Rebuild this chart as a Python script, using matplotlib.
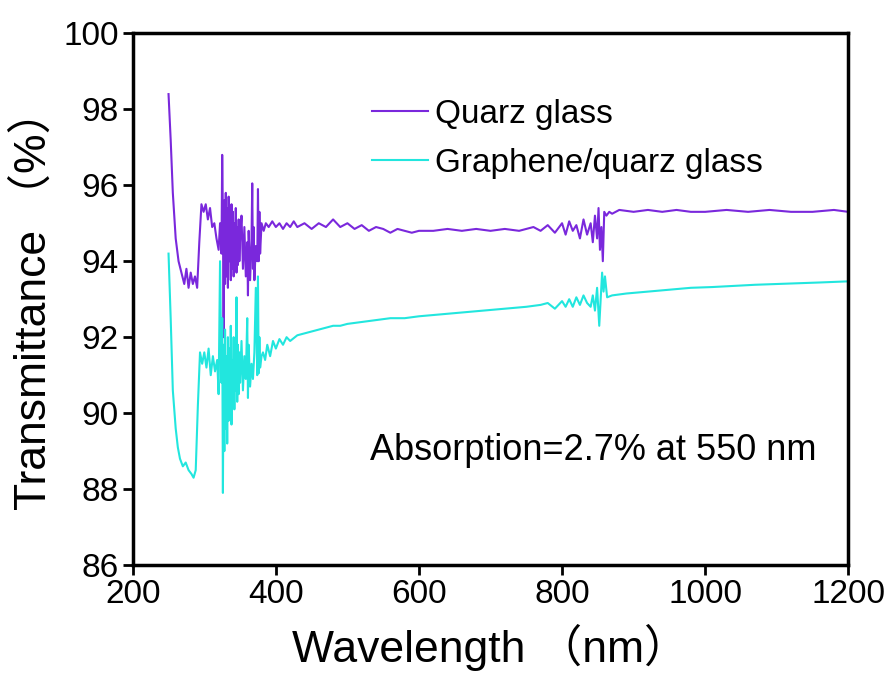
import matplotlib
matplotlib.use('Agg')
import matplotlib.pyplot as plt

plt.rcParams['font.family'] = ['Liberation Sans', 'Noto Sans CJK SC', 'DejaVu Sans']

# Quarz glass
wl_quartz = [250, 253, 256, 260, 264, 268, 272, 275, 278, 281, 284, 287, 290, 293, 296, 299,
             302, 305, 308, 311, 314, 317, 320, 322, 324, 325, 326, 327, 328, 329, 330, 331,
             332, 333, 334, 335, 336, 337, 338, 339, 340, 341, 342, 343, 344, 345, 346, 347,
             348, 349, 350, 352, 354, 356, 358, 360, 361, 362, 364, 366, 367, 368, 369, 370,
             372, 374, 375, 376, 377, 378, 380, 383, 386, 390, 395, 400, 405, 410, 415, 420,
             425, 430, 440, 450, 460, 470, 480, 490, 500, 510, 520, 530, 540, 550, 560, 570,
             580, 590, 600, 620, 640, 660, 680, 700, 720, 740, 760, 770, 780, 790, 800, 805,
             810, 815, 820, 825, 830, 835, 840, 843, 846, 849, 851, 853, 855, 857, 859, 862,
             866, 870, 880, 900, 920, 940, 960, 980, 1000, 1030, 1060, 1090, 1120, 1150, 1180, 1200]
t_quartz = [98.4, 97.2, 95.8, 94.6, 94.0, 93.7, 93.4, 93.8, 93.3, 93.7, 93.4, 93.6, 93.3, 94.5, 95.5, 95.3,
            95.5, 95.1, 95.4, 94.9, 95.0, 94.6, 94.3, 95.0, 94.2, 96.8, 95.2, 92.0, 95.6, 93.4, 95.8, 93.6,
            95.4, 93.3, 95.7, 94.0, 95.2, 93.5, 95.5, 93.8, 95.3, 93.6, 95.0, 94.2, 95.4, 93.7, 94.9, 93.9,
            95.1, 94.0, 94.6, 95.2, 93.8, 94.9, 93.6, 94.5, 93.1, 94.8, 93.5, 94.6, 96.05, 93.8, 94.9, 93.5,
            94.4, 94.0, 95.9, 94.0, 95.3, 94.2, 95.0, 94.8, 95.0, 94.9, 95.05, 94.9, 95.0, 94.85, 95.0, 94.9,
            95.05, 94.9, 95.0, 94.85, 95.0, 94.9, 95.1, 94.9, 95.0, 94.85, 94.95, 94.8, 94.9, 94.85, 94.75, 94.85,
            94.8, 94.75, 94.8, 94.8, 94.85, 94.8, 94.85, 94.8, 94.85, 94.8, 94.9, 94.8, 94.95, 94.75, 95.0, 94.7,
            95.05, 94.8, 94.95, 94.6, 95.1, 94.7, 95.0, 94.5, 95.2, 94.6, 95.4, 94.3, 94.9, 94.0, 95.3, 95.2,
            95.3, 95.25, 95.35, 95.3, 95.35, 95.3, 95.35, 95.3, 95.3, 95.35, 95.3, 95.35, 95.3, 95.3, 95.35, 95.3]

# Graphene/quarz glass
wl_graphene = [250, 253, 256, 260, 263, 266, 270, 274, 278, 282, 285, 288, 291, 294, 297, 300,
               303, 306, 309, 312, 315, 318, 320, 322, 324, 325, 326, 327, 328, 329, 330, 331,
               332, 333, 334, 335, 336, 337, 338, 339, 340, 341, 342, 343, 344, 345, 346, 347,
               348, 349, 350, 352, 354, 356, 358, 360, 361, 362, 364, 366, 368, 370, 372, 374,
               375, 376, 377, 378, 380, 382, 385, 388, 392, 396, 400, 405, 410, 415, 420, 430,
               440, 450, 460, 470, 480, 490, 500, 520, 540, 560, 580, 600, 630, 660, 690, 720,
               750, 770, 780, 790, 800, 805, 810, 815, 820, 825, 830, 835, 840, 843, 846, 849,
               852, 854, 856, 858, 860, 863, 870, 890, 920, 950, 980, 1010, 1040, 1070, 1100, 1130,
               1160, 1200]
t_graphene = [94.2, 92.5, 90.6, 89.6, 89.1, 88.8, 88.6, 88.7, 88.5, 88.4, 88.3, 88.5, 90.2, 91.6, 91.3, 91.6,
              91.2, 91.7, 91.0, 91.5, 91.1, 91.4, 90.5, 94.0, 90.8, 92.5, 87.9, 91.8, 89.0, 92.2, 89.6, 91.5,
              89.2, 92.0, 89.8, 91.7, 90.2, 92.3, 89.7, 91.4, 90.4, 92.0, 90.1, 91.6, 90.6, 93.05, 90.3, 91.8,
              90.5, 91.6, 90.8, 91.9, 90.6, 91.5, 90.9, 92.5, 90.4, 91.8, 90.7, 91.3, 90.9, 91.6, 93.3, 91.0,
              93.6, 91.05, 92.0, 91.2, 91.5, 91.6, 91.4, 91.8, 91.5, 91.9, 91.7, 91.95, 91.8, 92.0, 91.9, 92.05,
              92.1, 92.15, 92.2, 92.25, 92.3, 92.3, 92.35, 92.4, 92.45, 92.5, 92.5, 92.55, 92.6, 92.65, 92.7, 92.75,
              92.8, 92.85, 92.9, 92.75, 92.95, 92.8, 93.0, 92.8, 93.05, 92.85, 93.1, 92.9, 92.8, 93.1, 92.7, 93.3,
              92.3, 93.0, 93.7, 93.2, 93.6, 93.05, 93.1, 93.15, 93.2, 93.25, 93.3, 93.32, 93.35, 93.38, 93.4, 93.42,
              93.44, 93.47]

labels = ['Quarz glass', 'Graphene/quarz glass']
colors = ['#7A28DC', '#22E6DE']

fig = plt.figure(figsize=(8.91, 6.8), dpi=100)
ax = fig.add_axes([0.149, 0.169, 0.803, 0.782])

ax.plot(wl_quartz, t_quartz, color=colors[0], lw=1.5, label=labels[0])
ax.plot(wl_graphene, t_graphene, color=colors[1], lw=1.5, label=labels[1])

ax.set_xlim(200, 1200)
ax.set_ylim(86, 100)
ax.set_xticks(range(200, 1201, 200))
ax.set_yticks(range(86, 101, 2))
ax.tick_params(direction='out', length=7, width=2, labelsize=24, pad=3)
for s in ax.spines.values():
    s.set_linewidth(2.5)

ax.set_xlabel('Wavelength （nm）', fontsize=32, labelpad=10)
ax.set_ylabel('Transmittance （%）', fontsize=32, labelpad=6)

ax.legend(loc='upper left', bbox_to_anchor=(0.334, 0.877), frameon=False, fontsize=24,
          handlelength=1.7, handletextpad=0.2, labelspacing=0.55, borderpad=0, borderaxespad=0)

ax.text(0.643, 0.216, 'Absorption=2.7% at 550 nm', transform=ax.transAxes,
        fontsize=26, ha='center', va='center')

fig.savefig('out.png', dpi=100)
